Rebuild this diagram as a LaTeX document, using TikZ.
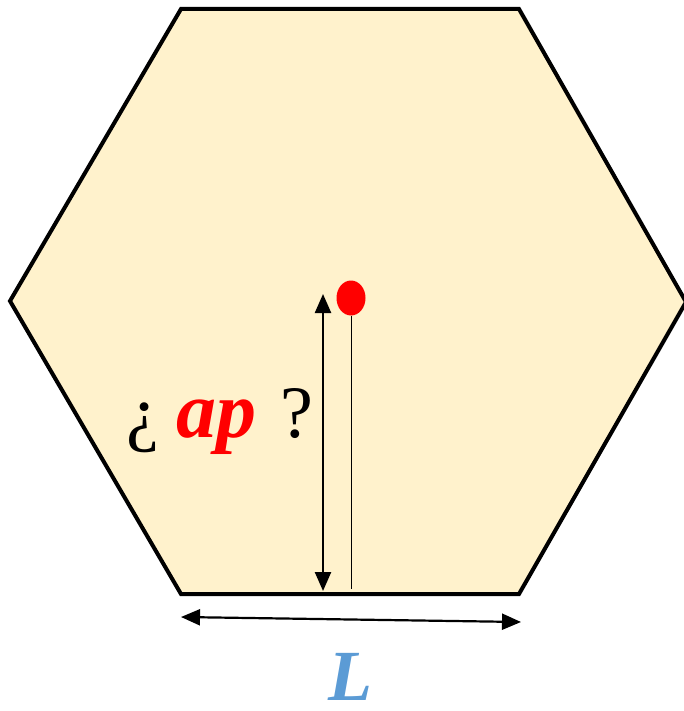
\documentclass[tikz,border=0pt]{standalone}
\usepackage{fontspec}
\setmainfont{Liberation Serif}
\usetikzlibrary{arrows.meta,shapes.geometric}
\definecolor{hexfill}{HTML}{FFF2CC}
\definecolor{dotred}{HTML}{FF0000}
\definecolor{lblue}{HTML}{5B9BD5}
\tikzset{
  dimarrow/.style={line width=2.4pt,{Triangle[length=19pt,width=16pt]}-{Triangle[length=19pt,width=16pt]}},
  bigtext/.style={inner sep=0pt,anchor=base,font=\fontsize{74}{74}\selectfont}
}
\begin{document}
\begin{tikzpicture}[x=1pt,y=-1pt]
\useasboundingbox (0,0) rectangle (684,711);
% hexagon
\coordinate (h1) at (181,9);
\coordinate (h2) at (519,9);
\coordinate (h3) at (686,302);
\coordinate (h4) at (519,594);
\coordinate (h5) at (181,594);
\coordinate (h6) at (10,301);
\draw[line width=4pt,fill=hexfill,line join=miter] (h1)--(h2)--(h3)--(h4)--(h5)--(h6)--cycle;
% red point
\node[ellipse,fill=dotred,minimum width=29pt,minimum height=35pt,inner sep=0pt] (dot) at (351,298) {};
\coordinate (dotbase) at (351,589);
\draw[line width=0.9pt] (dot.south) -- (dotbase);
% vertical dimension arrow
\coordinate (vtop) at (323,294);
\coordinate (vbot) at (323,591);
\draw[dimarrow] (vtop) -- (vbot);
% horizontal dimension arrow
\coordinate (hl) at (181,617);
\coordinate (hr) at (521,622);
\draw[dimarrow,line width=2.2pt] (hl) -- (hr);
% labels
\node[bigtext] (qo) at (143,437) {¿};
\node[bigtext,text=dotred,font=\fontsize{80}{80}\selectfont\bfseries\itshape] (ap) at (216,437) {ap};
\node[bigtext] (qc) at (297,437) {?};
\node[bigtext,text=lblue,font=\fontsize{72}{72}\selectfont\bfseries\itshape] (L) at (350,700) {L};
\end{tikzpicture}
\end{document}
